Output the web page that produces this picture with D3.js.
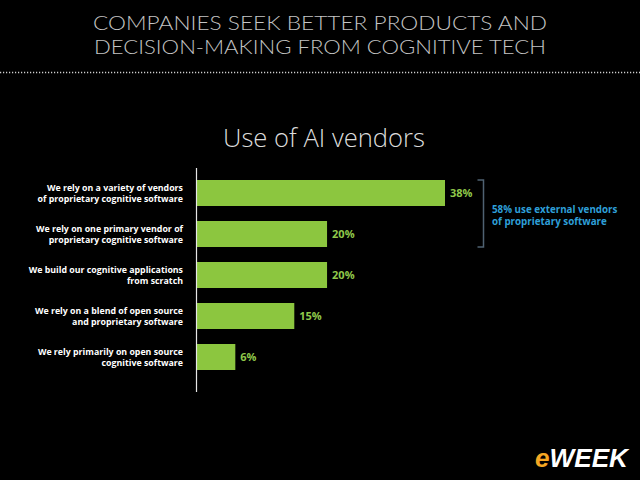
<!DOCTYPE html>
<html>
<head>
<meta charset="utf-8">
<script src="https://cdn.jsdelivr.net/npm/d3@7"></script>
<style>
  html, body { margin: 0; padding: 0; background: #000; }
  svg { display: block; }
</style>
</head>
<body>
<div id="chart"></div>
<script>
// ---- Data ----
const headerLines = ["COMPANIES SEEK BETTER PRODUCTS AND", "DECISION-MAKING FROM COGNITIVE TECH"];
const chartTitle = "Use of AI vendors";
const categories = [
  "We rely on a variety of vendors|of proprietary cognitive software",
  "We rely on one primary vendor of|proprietary cognitive software",
  "We build our cognitive applications|from scratch",
  "We rely on a blend of open source|and proprietary software",
  "We rely primarily on open source|cognitive software"
];
const values = [38, 20, 20, 15, 6];
const valueLabels = ["38%", "20%", "20%", "15%", "6%"];
const bracketRange = [0, 1]; // category indices grouped by the bracket
const annotationLines = ["58% use external vendors", "of proprietary software"];

// ---- Setup ----
const W = 640, H = 480;
const svg = d3.select("#chart").append("svg").attr("width", W).attr("height", H);
svg.append("rect").attr("width", W).attr("height", H).attr("fill", "#000");

// Header
svg.append("g").selectAll("text").data(headerLines).join("text")
  .attr("x", 320).attr("y", (d, i) => 30 + i * 23.5)
  .attr("text-anchor", "middle")
  .attr("font-family", "Lato, 'Open Sans', sans-serif")
  .attr("font-weight", 300)
  .attr("font-size", 19)
  .attr("fill", "#c4c4c4")
  .attr("textLength", (d, i) => i === 0 ? 454 : 452)
  .attr("lengthAdjust", "spacingAndGlyphs")
  .text(d => d);

// Dotted separator
svg.append("line")
  .attr("x1", 0).attr("x2", W).attr("y1", 72.5).attr("y2", 72.5)
  .attr("stroke", "#cfcfcf").attr("stroke-width", 1.5)
  .attr("stroke-dasharray", "1.2,1.8");

// Chart title
svg.append("text")
  .attr("x", 324).attr("y", 147)
  .attr("text-anchor", "middle")
  .attr("font-family", "'Open Sans', sans-serif")
  .attr("font-weight", 300)
  .attr("font-size", 26)
  .attr("fill", "#dcdcdc")
  .attr("textLength", 202)
  .attr("lengthAdjust", "spacingAndGlyphs")
  .text(chartTitle);

// Scales
const x0 = 196;
const x = d3.scaleLinear().domain([0, 38]).range([x0, 445]);
const y = d3.scaleBand().domain(categories).range([172.5, 377.5])
  .paddingInner(0.366).paddingOuter(0.183);

// Bars
svg.append("g").selectAll("rect").data(values).join("rect")
  .attr("x", x(0))
  .attr("y", (d, i) => y(categories[i]))
  .attr("width", d => x(d) - x(0))
  .attr("height", y.bandwidth())
  .attr("fill", "#8cc63f");

// Axis line
svg.append("line")
  .attr("x1", x0 + 0.5).attr("x2", x0 + 0.5)
  .attr("y1", 168).attr("y2", 392)
  .attr("stroke", "#e6e6e6").attr("stroke-width", 1.2);

// Value labels
svg.append("g").selectAll("text").data(values).join("text")
  .attr("x", d => x(d) + 5)
  .attr("y", (d, i) => y(categories[i]) + y.bandwidth() / 2 + 4)
  .attr("font-family", "'Open Sans', sans-serif")
  .attr("font-weight", 700)
  .attr("font-size", 11)
  .attr("fill", "#8fc84a")
  .text((d, i) => valueLabels[i]);

// Category labels (one text element per line)
const catG = svg.append("g");
categories.forEach(c => {
  const lines = c.split("|");
  const cy = y(c) + y.bandwidth() / 2;
  lines.forEach((l, j) => {
    catG.append("text")
      .attr("text-anchor", "end")
      .attr("font-family", "'Open Sans', sans-serif")
      .attr("font-weight", 700)
      .attr("font-size", 8.8)
      .attr("fill", "#ffffff")
      .attr("x", 183)
      .attr("y", cy - 2.5 + j * 11.5)
      .text(l);
  });
});

// Bracket
const bTop = y(categories[bracketRange[0]]);
const bBot = y(categories[bracketRange[1]]) + y.bandwidth();
const bx = 483.5;
svg.append("path")
  .attr("d", `M${bx - 6},${bTop} H${bx} V${bBot} H${bx - 6}`)
  .attr("fill", "none")
  .attr("stroke", "#4f6272")
  .attr("stroke-width", 1.5);

// Annotation
svg.append("g").selectAll("text").data(annotationLines).join("text")
  .attr("x", 492)
  .attr("y", (d, i) => 212.5 + i * 12)
  .attr("font-family", "'Open Sans', sans-serif")
  .attr("font-weight", 700)
  .attr("font-size", 9.8)
  .attr("fill", "#2e9fd8")
  .text(d => d);

// Logo
const logo = svg.append("text")
  .attr("x", 535).attr("y", 467)
  .attr("font-family", "'Liberation Sans', Arial, sans-serif")
  .attr("font-weight", 700)
  .attr("font-style", "italic")
  .attr("font-size", 25)
  .attr("textLength", 93)
  .attr("lengthAdjust", "spacingAndGlyphs");
logo.append("tspan").attr("fill", "#f5a623").text("e");
logo.append("tspan").attr("fill", "#ffffff").text("WEEK");
</script>
</body>
</html>
